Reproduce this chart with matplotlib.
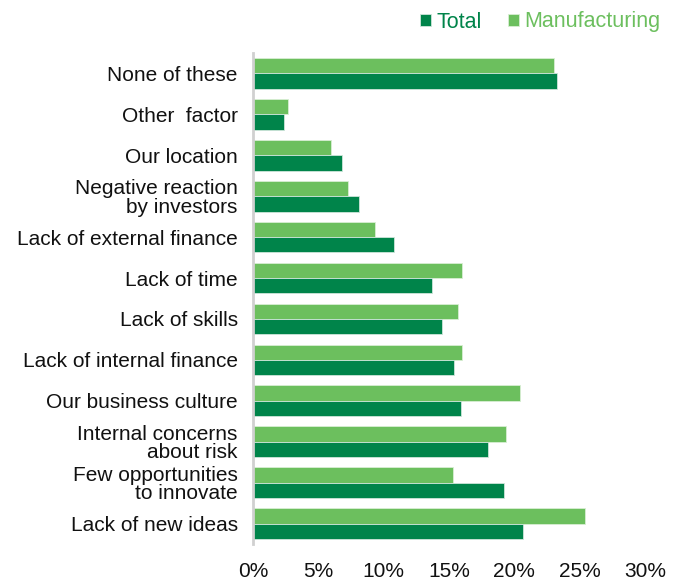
import numpy as np
import matplotlib.pyplot as plt
from matplotlib.ticker import FuncFormatter

plt.rcParams['font.family'] = ['Liberation Sans', 'DejaVu Sans']

# categories listed top to bottom
categories = ['None of these', 'Other  factor', 'Our location',
              'Negative reaction\nby investors', 'Lack of external finance',
              'Lack of time', 'Lack of skills', 'Lack of internal finance',
              'Our business culture', 'Internal concerns\nabout risk',
              'Few opportunities\nto innovate', 'Lack of new ideas']
total = [23.3, 2.35, 6.8, 8.1, 10.8, 13.7, 14.5, 15.4, 15.9, 18.0, 19.2, 20.7]
manufacturing = [23.05, 2.65, 6.0, 7.3, 9.3, 16.0, 15.7, 16.0, 20.4, 19.4, 15.3, 25.4]
xticks = [0, 5, 10, 15, 20, 25, 30]

c_total = '#00844A'
c_manu = '#6CBF5E'

fig = plt.figure(figsize=(6.79, 5.83), dpi=100)
ax = fig.add_axes([253 / 679, 1 - 544 / 583, (645 - 253) / 679, (544 - 53) / 583])

y = np.arange(len(categories))
h = 0.375
ax.barh(y - h / 2, manufacturing, height=h, color=c_manu, edgecolor='#d8eed4',
        linewidth=0.6, label='Manufacturing')
ax.barh(y + h / 2, total, height=h, color=c_total, edgecolor='#cfe6da',
        linewidth=0.6, label='Total')

ax.set_ylim(len(categories) - 0.5, -0.5)
ax.set_xlim(0, 30)
ax.set_yticks(y)
ax.set_yticklabels(categories, fontsize=15, color='#111111', linespacing=0.98)
ax.set_xticks(xticks)
ax.xaxis.set_major_formatter(FuncFormatter(lambda v, p: f'{v:.0f}%'))
ax.tick_params(axis='x', length=0, labelsize=15, labelcolor='#111111', pad=13)
ax.tick_params(axis='y', length=0, pad=11)

for s in ['top', 'right', 'bottom']:
    ax.spines[s].set_visible(False)
ax.spines['left'].set_color('#d0d0d0')
ax.spines['left'].set_linewidth(2)

handles, labels = ax.get_legend_handles_labels()
leg = fig.legend(handles[::-1], labels[::-1], loc='center right',
                 bbox_to_anchor=(665 / 679, 1 - 22 / 583), ncol=2, frameon=False,
                 fontsize=15.5, handlelength=0.5, handleheight=0.5,
                 handletextpad=0.25, columnspacing=1.25, borderaxespad=0,
                 borderpad=0.2)
for t, c in zip(leg.get_texts(), [c_total, c_manu]):
    t.set_color(c)

fig.savefig('out.png', dpi=100)
